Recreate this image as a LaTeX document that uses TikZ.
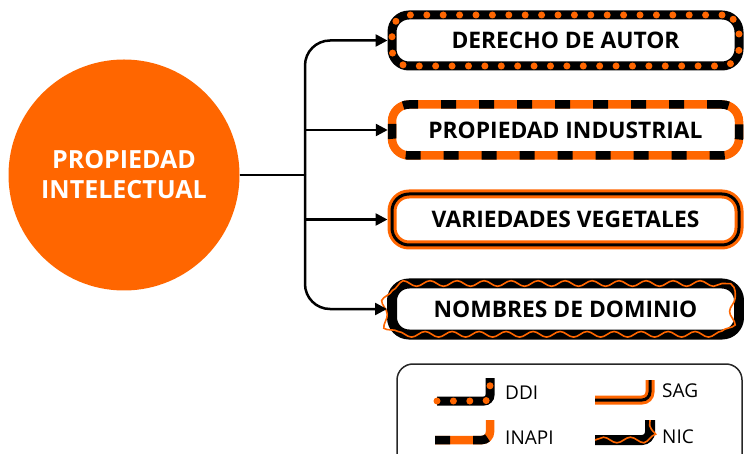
\documentclass[tikz,border=0pt]{standalone}
\usepackage{fontspec}
\setmainfont{Open Sans}
\usetikzlibrary{positioning}
\usetikzlibrary{arrows.meta}
\usetikzlibrary{decorations.pathmorphing}
\definecolor{naranja}{HTML}{FF6600}

\begin{document}
\begin{tikzpicture}[x=1pt,y=-1pt,node distance=89.5pt,
    caja/.style={rectangle,rounded corners=17pt,minimum width=347pt,minimum height=51pt,
      inner sep=0pt,font=\fontsize{22.8}{26}\selectfont\bfseries},
    ddi/.style={draw=black,line width=9pt,postaction={draw=naranja,line width=7pt,
      line cap=round,dash pattern=on 0pt off 16.4pt}},
    inapi/.style={draw=naranja,line width=8.5pt,postaction={draw=black,line width=8.5pt,
      dash pattern=on 15pt off 23pt}},
    sag/.style={draw=naranja,line width=9pt,postaction={draw=black,line width=3pt}},
    nic/.style={draw=black,line width=10pt,postaction={draw=naranja,line width=1.6pt,sharp corners,
      decorate,decoration={snake,segment length=27pt,amplitude=2.8pt}}},
    flecha/.style={line width=2.5pt,-{Triangle[length=12pt,width=12pt]}},
    leyenda/.style={anchor=west,inner sep=0pt,font=\fontsize{19}{20}\selectfont}]
  \useasboundingbox (0,0) rectangle (744,454);

  \node[circle,fill=naranja,minimum size=231pt,inner sep=0pt,text=white,align=center,
    font=\fontsize{25}{30}\selectfont\bfseries] (pi) at (124,175) {PROPIEDAD\\INTELECTUAL};

  \node[caja,ddi]   (autor)      at (565.5,40.5) {DERECHO DE AUTOR};
  \node[caja,inapi] (industrial) [below of=autor]      {PROPIEDAD INDUSTRIAL};
  \node[caja,sag]   (vegetales)  [below of=industrial] {VARIEDADES VEGETALES};
  \node[caja,nic]   (dominio)    [below of=vegetales]  {NOMBRES DE DOMINIO};

  % ramas
  \coordinate (j) at (305,175);
  \draw[line width=2.5pt] (pi.east) -- (j);
  \draw[flecha,rounded corners=25pt] (j) |- (autor);
  \draw[flecha,rounded corners=25pt] (j) |- (dominio);
  \draw[flecha] (j |- industrial) -- (industrial);
  \draw[flecha] (j |- vegetales) -- (vegetales);

  % leyenda
  \draw[line width=1.5pt,draw=black!85,rounded corners=16pt] (397,364) rectangle (742,480);
  \draw[ddi,rounded corners=6pt] (437,401) -- (490,401) -- (490,378);
  \draw[inapi,rounded corners=8pt] (435,440) -- (490,440) -- (490,420);
  \draw[sag,rounded corners=8pt] (595,400) -- (650,400) -- (650,380);
  \draw[nic,rounded corners=8pt] (595,440) -- (650,440) -- (650,420);
  \node[leyenda] (lddi)   at (505,393) {DDI};
  \node[leyenda] (linapi) at (505,438) {INAPI};
  \node[leyenda] (lsag)   at (662,391) {SAG};
  \node[leyenda] (lnic)   at (662,437) {NIC};
\end{tikzpicture}
\end{document}
